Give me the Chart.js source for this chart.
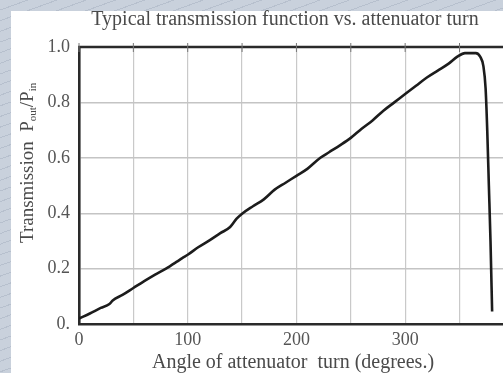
<!DOCTYPE html>
<html>
<head>
<meta charset="utf-8">
<script src="https://cdn.jsdelivr.net/npm/chart.js@4.4.1/dist/chart.umd.min.js"></script>
<style>
  html, body { margin: 0; padding: 0; overflow: hidden; width: 503px; height: 373px; }
  body {
    background-color: #c9d1dc;
    background-image: repeating-linear-gradient(160deg, rgba(255,255,255,0) 0px, rgba(255,255,255,0) 9px, rgba(170,180,195,0.6) 9px, rgba(170,180,195,0.6) 10px);
  }
  #panel { position: absolute; left: 11px; top: 11px; width: 492px; height: 362px; background: #ffffff; }
  #wrap { position: absolute; left: 0; top: 0; width: 503px; height: 373px; }
</style>
</head>
<body>
<div id="panel"></div>
<div id="wrap"><canvas id="c" width="503" height="373"></canvas></div>
<script>
// ---- data ----
const angleDeg = [0, 10, 20, 28, 31, 40, 50, 60, 70, 80, 90, 95, 100, 110, 120, 130, 139, 145, 150, 160, 170, 180, 190, 200, 210, 222, 230, 240, 250, 260, 270, 280, 290, 300, 310, 320, 330, 340, 348, 355, 365, 369, 372, 374, 375.5, 377, 378.5, 380];
const transmission = [0.02, 0.038, 0.058, 0.072, 0.085, 0.105, 0.13, 0.155, 0.178, 0.2, 0.225, 0.238, 0.25, 0.278, 0.302, 0.328, 0.35, 0.38, 0.398, 0.425, 0.45, 0.485, 0.51, 0.535, 0.56, 0.6, 0.62, 0.645, 0.672, 0.705, 0.735, 0.77, 0.8, 0.83, 0.86, 0.89, 0.915, 0.94, 0.965, 0.978, 0.978, 0.965, 0.93, 0.85, 0.7, 0.5, 0.3, 0.045];
const xTickValues = [0, 50, 100, 150, 200, 250, 300, 350];
const xTickLabels = ['0', '', '100', '', '200', '', '300', ''];
const yTickValues = [0, 0.2, 0.4, 0.6, 0.8, 1.0];
const yTickLabels = ['0.', '0.2', '0.4', '0.6', '0.8', '1.0'];
const chartTitle = 'Typical transmission function vs. attenuator turn';
const xTitle = 'Angle of attenuator  turn (degrees.)';
const yTitleMain = 'Transmission  P';
const yTitleSub1 = 'out';
const yTitleMid = '/P';
const yTitleSub2 = 'in';

const points = angleDeg.map((a, i) => ({ x: a, y: transmission[i] }));
const SERIF = '"Liberation Serif", "DejaVu Serif", serif';

const textPlugin = {
  id: 'texts',
  afterDraw(chart) {
    const ctx = chart.ctx;
    const ca = chart.chartArea;
    ctx.save();
    // top frame line with tick marks
    ctx.strokeStyle = '#2a2a2a';
    ctx.lineWidth = 2.5;
    ctx.beginPath();
    ctx.moveTo(ca.left - 1, ca.top);
    ctx.lineTo(ca.right + 2, ca.top);
    ctx.stroke();
    const xs = chart.scales.x;
    ctx.lineWidth = 1;
    ctx.strokeStyle = '#777';
    xTickValues.forEach(v => {
      const px = xs.getPixelForValue(v);
      ctx.beginPath();
      ctx.moveTo(px, ca.top - 4);
      ctx.lineTo(px, ca.top + 5);
      ctx.stroke();
    });
    // titles
    ctx.fillStyle = '#4a4a4a';
    ctx.textAlign = 'center';
    ctx.textBaseline = 'middle';
    ctx.font = '20px ' + SERIF;
    ctx.fillText(chartTitle, 285, 20);
    ctx.fillText(xTitle, 293, 363);
    // y title rotated
    ctx.translate(33, 243);
    ctx.rotate(-Math.PI / 2);
    ctx.textAlign = 'left';
    ctx.textBaseline = 'alphabetic';
    ctx.font = '19px ' + SERIF;
    let x = 0;
    ctx.fillText(yTitleMain, x, 0);
    x += ctx.measureText(yTitleMain).width;
    ctx.font = '11px ' + SERIF;
    ctx.fillText(yTitleSub1, x, 3);
    x += ctx.measureText(yTitleSub1).width;
    ctx.font = '19px ' + SERIF;
    ctx.fillText(yTitleMid, x, 0);
    x += ctx.measureText(yTitleMid).width;
    ctx.font = '11px ' + SERIF;
    ctx.fillText(yTitleSub2, x, 3);
    ctx.restore();
  }
};

new Chart(document.getElementById('c'), {
  type: 'line',
  data: {
    datasets: [{
      data: points,
      borderColor: '#1c1c1c',
      borderWidth: 2.6,
      pointRadius: 0,
      fill: false,
      tension: 0.25,
      cubicInterpolationMode: 'monotone'
    }]
  },
  plugins: [textPlugin],
  options: {
    responsive: false,
    animation: false,
    events: [],
    layout: { padding: { top: 47, right: 0, left: 0, bottom: 0 } },
    plugins: { legend: { display: false }, tooltip: { enabled: false }, title: { display: false } },
    scales: {
      x: {
        type: 'linear',
        min: 0,
        max: 390,
        afterFit(scale) { scale.height = 49; },
        afterBuildTicks(scale) { scale.ticks = xTickValues.map(v => ({ value: v })); },
        grid: { color: '#c9c9c9', lineWidth: 1.2, drawTicks: false },
        border: { display: true, color: '#2a2a2a', width: 2.6 },
        ticks: {
          padding: 5,
          color: '#555',
          font: { family: SERIF, size: 18 },
          maxRotation: 0,
          autoSkip: false,
          callback(v) { const i = xTickValues.indexOf(v); return i >= 0 ? xTickLabels[i] : ''; }
        }
      },
      y: {
        min: 0,
        max: 1,
        afterFit(scale) { scale.width = 79; },
        afterBuildTicks(scale) { scale.ticks = yTickValues.map(v => ({ value: v })); },
        grid: { color: '#c4c4c4', lineWidth: 1.4, drawTicks: false },
        border: { display: true, color: '#2a2a2a', width: 2.6 },
        ticks: {
          padding: 9,
          color: '#555',
          font: { family: SERIF, size: 18 },
          callback(v) { const i = yTickValues.findIndex(t => Math.abs(t - v) < 1e-9); return i >= 0 ? yTickLabels[i] : ''; }
        }
      }
    }
  }
});
</script>
</body>
</html>
